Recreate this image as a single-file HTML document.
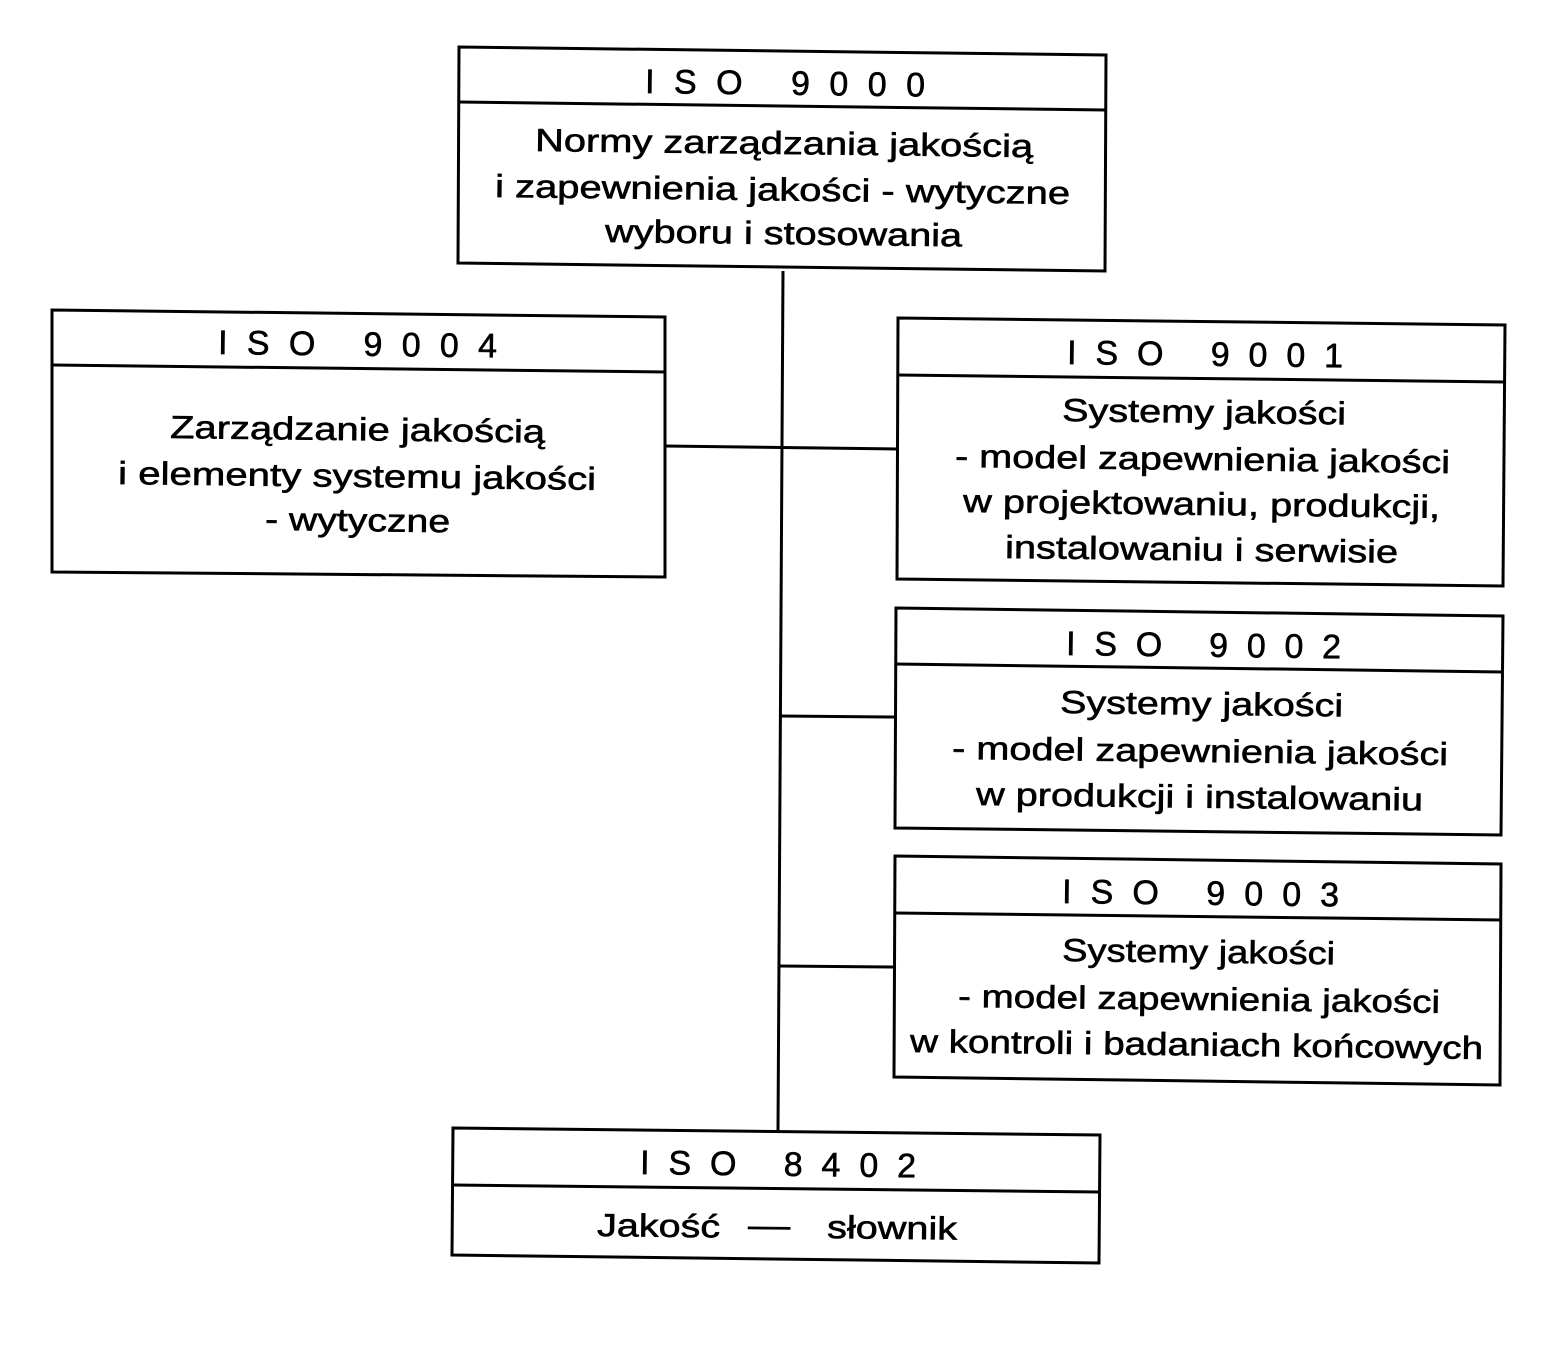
<!DOCTYPE html>
<html><head><meta charset="utf-8"><style>html,body{margin:0;padding:0;background:#fff}svg{display:block}</style></head>
<body>
<svg width="1549" height="1362" viewBox="0 0 1549 1362" xmlns="http://www.w3.org/2000/svg" font-family="Liberation Sans, DejaVu Sans, sans-serif" font-size="32" fill="#000">
<g fill="none" stroke="#000" stroke-width="3">
<polygon points="459,47 1106,55 1105,271 458,263"/><line x1="459" y1="102" x2="1106" y2="110"/>
<polygon points="52,310 665,317 665,577 52,572"/><line x1="52" y1="365" x2="665" y2="372"/>
<polygon points="898,318 1505,325 1503,586 897,579"/><line x1="898" y1="375" x2="1505" y2="382"/>
<polygon points="896,608 1503,616 1501,835 895,828"/><line x1="896" y1="664" x2="1503" y2="672"/>
<polygon points="895,856 1501,864 1500,1085 894,1077"/><line x1="895" y1="913" x2="1501" y2="920"/>
<polygon points="453,1128 1100,1135 1099,1263 452,1255"/><line x1="453" y1="1185" x2="1100" y2="1192"/>
<line x1="783" y1="271" x2="778" y2="1130"/>
<line x1="665" y1="446" x2="897" y2="449"/>
<line x1="780" y1="716" x2="895" y2="717"/>
<line x1="779" y1="966" x2="894" y2="967"/>
</g>
<g stroke="#000" stroke-width="0.6">
<g font-size="34">
<text x="645" y="93" textLength="280" lengthAdjust="spacing" transform="rotate(0.7 645 93)">ISO 9000</text>
<text x="218" y="354" textLength="279" lengthAdjust="spacing" transform="rotate(0.7 218 354)">ISO 9004</text>
<text x="1067" y="364" textLength="276" lengthAdjust="spacing" transform="rotate(0.7 1067 364)">ISO 9001</text>
<text x="1066" y="655" textLength="275" lengthAdjust="spacing" transform="rotate(0.7 1066 655)">ISO 9002</text>
<text x="1062" y="903" textLength="277" lengthAdjust="spacing" transform="rotate(0.7 1062 903)">ISO 9003</text>
<text x="640" y="1174" textLength="276" lengthAdjust="spacing" transform="rotate(0.7 640 1174)">ISO 8402</text>
</g>
<text x="535" y="151" textLength="498" lengthAdjust="spacingAndGlyphs" transform="rotate(0.7 535 151)">Normy zarządzania jakością</text>
<text x="495" y="197" textLength="575" lengthAdjust="spacingAndGlyphs" transform="rotate(0.7 495 197)">i zapewnienia jakości - wytyczne</text>
<text x="605" y="242" textLength="357" lengthAdjust="spacingAndGlyphs" transform="rotate(0.7 605 242)">wyboru i stosowania</text>

<text x="170" y="438" textLength="375" lengthAdjust="spacingAndGlyphs" transform="rotate(0.7 170 438)">Zarządzanie jakością</text>
<text x="118" y="484" textLength="478" lengthAdjust="spacingAndGlyphs" transform="rotate(0.7 118 484)">i elementy systemu jakości</text>
<text x="265" y="530" textLength="185" lengthAdjust="spacingAndGlyphs" transform="rotate(0.7 265 530)">- wytyczne</text>

<text x="1062" y="421" textLength="284" lengthAdjust="spacingAndGlyphs" transform="rotate(0.7 1062 421)">Systemy jakości</text>
<text x="955" y="467" textLength="495" lengthAdjust="spacingAndGlyphs" transform="rotate(0.7 955 467)">- model zapewnienia jakości</text>
<text x="963" y="512" textLength="477" lengthAdjust="spacingAndGlyphs" transform="rotate(0.7 963 512)">w projektowaniu, produkcji,</text>
<text x="1005" y="558" textLength="393" lengthAdjust="spacingAndGlyphs" transform="rotate(0.7 1005 558)">instalowaniu i serwisie</text>

<text x="1060" y="713" textLength="283" lengthAdjust="spacingAndGlyphs" transform="rotate(0.7 1060 713)">Systemy jakości</text>
<text x="952" y="759" textLength="496" lengthAdjust="spacingAndGlyphs" transform="rotate(0.7 952 759)">- model zapewnienia jakości</text>
<text x="976" y="805" textLength="447" lengthAdjust="spacingAndGlyphs" transform="rotate(0.7 976 805)">w produkcji i instalowaniu</text>

<text x="1062" y="961" textLength="273" lengthAdjust="spacingAndGlyphs" transform="rotate(0.7 1062 961)">Systemy jakości</text>
<text x="958" y="1007" textLength="482" lengthAdjust="spacingAndGlyphs" transform="rotate(0.7 958 1007)">- model zapewnienia jakości</text>
<text x="910" y="1052" textLength="573" lengthAdjust="spacingAndGlyphs" transform="rotate(0.7 910 1052)">w kontroli i badaniach końcowych</text>

<text x="597" y="1236" textLength="123" lengthAdjust="spacingAndGlyphs" transform="rotate(0.7 597 1236)">Jakość</text>
<text x="748" y="1236" textLength="42" lengthAdjust="spacingAndGlyphs" transform="rotate(0.7 748 1236)">—</text>
<text x="827" y="1238" textLength="130" lengthAdjust="spacingAndGlyphs" transform="rotate(0.7 827 1238)">słownik</text>
</g>
</svg>
</body></html>
